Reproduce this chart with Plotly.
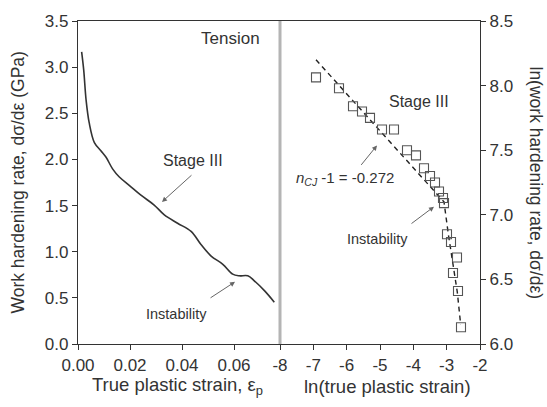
import plotly.graph_objects as go

# Left panel: work hardening rate vs true plastic strain
strain = [0.0014, 0.0022, 0.0031, 0.0043, 0.0063, 0.0088, 0.0108, 0.0133, 0.0159,
          0.0197, 0.0242, 0.0293, 0.0332, 0.0383, 0.0435, 0.0473, 0.0512, 0.0557,
          0.0595, 0.0620, 0.0653, 0.0678, 0.0717, 0.0755]
whr = [3.165, 2.968, 2.647, 2.398, 2.183, 2.095, 2.023, 1.898, 1.809,
       1.720, 1.613, 1.506, 1.399, 1.309, 1.220, 1.078, 0.953, 0.864,
       0.757, 0.739, 0.739, 0.685, 0.578, 0.453]

# Right panel: ln(work hardening rate) vs ln(true plastic strain)
ln_strain = [-6.92, -6.23, -5.81, -5.54, -5.30, -4.94, -4.58, -4.19, -3.92, -3.68,
             -3.50, -3.35, -3.23, -3.11, -3.08, -2.99, -2.87, -2.69, -2.81, -2.66, -2.57]
ln_whr = [8.064, 7.98, 7.84, 7.80, 7.75, 7.66, 7.66, 7.50, 7.46, 7.36,
          7.30, 7.25, 7.18, 7.13, 7.09, 6.85, 6.79, 6.67, 6.55, 6.41, 6.13]

fit_x = [-6.92, -3.08, -2.95, -2.80, -2.68, -2.58]
fit_y = [8.20, 7.10, 6.85, 6.58, 6.40, 6.15]

x1_ticks = [0.0, 0.02, 0.04, 0.06]
x1_text = ["0.00", "0.02", "0.04", "0.06"]
x2_ticks = [-8, -7, -6, -5, -4, -3, -2]
x2_text = ["-8", "-7", "-6", "-5", "-4", "-3", "-2"]
y1_ticks = [0.0, 0.5, 1.0, 1.5, 2.0, 2.5, 3.0, 3.5]
y1_text = ["0.0", "0.5", "1.0", "1.5", "2.0", "2.5", "3.0", "3.5"]
y2_ticks = [6.0, 6.5, 7.0, 7.5, 8.0, 8.5]
y2_text = ["6.0", "6.5", "7.0", "7.5", "8.0", "8.5"]

FONT = "Arial, Liberation Sans, sans-serif"
TXT = "#333333"
AX = "#333333"

fig = go.Figure()
fig.add_trace(go.Scatter(x=strain, y=whr, mode="lines", line=dict(color="#333333", width=1.6, shape="spline"),
                         xaxis="x", yaxis="y", showlegend=False))
fig.add_trace(go.Scatter(x=fit_x, y=fit_y, mode="lines", line=dict(color="#222222", width=1.4, dash="5px,4px"),
                         xaxis="x2", yaxis="y2", showlegend=False))
fig.add_trace(go.Scatter(x=ln_strain, y=ln_whr, mode="markers",
                         marker=dict(symbol="square-open", size=9, color="#555555", line=dict(width=1.1)),
                         xaxis="x2", yaxis="y2", showlegend=False))

split = 202 / 402

axis_common = dict(showgrid=False, zeroline=False, showline=True, linecolor=AX, linewidth=1.2,
                   ticks="outside", ticklen=5, tickwidth=1, tickcolor=AX,
                   tickfont=dict(family=FONT, size=17, color=TXT))

fig.update_layout(
    width=547, height=407,
    margin=dict(l=78, r=67, t=17, b=63),
    paper_bgcolor="white", plot_bgcolor="white",
    font=dict(family=FONT, color=TXT),
    xaxis=dict(domain=[0, split], range=[0, 202 / 2600], anchor="y",
               tickvals=x1_ticks, ticktext=x1_text, mirror=True, **axis_common),
    xaxis2=dict(domain=[split, 1], range=[-8, -2], anchor="y2",
                tickvals=x2_ticks, ticktext=x2_text, mirror=True, **axis_common),
    yaxis=dict(domain=[0, 1], range=[0, 3.5], anchor="x",
               tickvals=y1_ticks, ticktext=y1_text, **axis_common),
    yaxis2=dict(domain=[0, 1], range=[6.0, 8.5], anchor="x2", side="right",
                tickvals=y2_ticks, ticktext=y2_text, **axis_common),
)

# gray divider between the two panels
fig.add_shape(type="line", xref="paper", yref="paper", x0=split, x1=split, y0=0, y1=1,
              line=dict(color="#b4b4b4", width=3))

C = dict(xanchor="center", yanchor="middle", showarrow=False)
anns = [
    dict(text="Work hardening rate, dσ/dε (GPa)", xref="paper", yref="paper", x=0, y=0.5,
         xshift=-61, textangle=-90, font=dict(size=17.5, family=FONT, color=TXT), **C),
    dict(text="ln(work hardening rate, dσ/dε)", xref="paper", yref="paper", x=1, y=0.5,
         xshift=56, textangle=90, font=dict(size=17.5, family=FONT, color=TXT), **C),
    dict(text="True plastic strain, ε<sub>p</sub>", xref="paper", yref="paper", x=(177 - 78) / 402, y=0,
         yshift=-42, font=dict(size=18.5, family=FONT, color=TXT), **C),
    dict(text="ln(true plastic strain)", xref="paper", yref="paper", x=(387 - 78) / 402, y=0,
         yshift=-42, font=dict(size=18.5, family=FONT, color=TXT), **C),
    dict(text="Tension", xref="x", yref="y", x=0.0588, y=3.31, font=dict(size=17, family=FONT, color=TXT), **C),
    dict(text="Stage III", xref="x", yref="y", x=0.0442, y=1.99, font=dict(size=16, family=FONT, color=TXT), **C),
    dict(text="Instability", xref="x", yref="y", x=0.0377, y=0.32, font=dict(size=14.5, family=FONT, color=TXT), **C),
    dict(text="Stage III", xref="x2", yref="y2", x=-3.83, y=7.88, font=dict(size=16, family=FONT, color=TXT), **C),
    dict(text="<i>n</i><sub><i>CJ</i></sub> -1 = -0.272", xref="x2", yref="y2", x=-6.05, y=7.28,
         font=dict(size=15, family=FONT, color=TXT), **C),
    dict(text="Instability", xref="x2", yref="y2", x=-5.09, y=6.81, font=dict(size=14.5, family=FONT, color=TXT), **C),
]
arrow_style = dict(showarrow=True, arrowhead=2, arrowsize=1, arrowwidth=1, arrowcolor="#666666", text="",
                   axref="pixel", ayref="pixel")
arrows = [
    dict(xref="x", yref="y", x=0.0323, y=1.54, ax=31, ay=-28),
    dict(xref="x", yref="y", x=0.0604, y=0.674, ax=-26, ay=17),
    dict(xref="x2", yref="y2", x=-5.09, y=7.537, ax=-17, ay=21),
    dict(xref="x2", yref="y2", x=-3.38, y=7.063, ax=-24, ay=18),
]
for a in arrows:
    a.update(arrow_style)
    anns.append(a)
fig.update_layout(annotations=anns)

fig.write_html("out.html")
